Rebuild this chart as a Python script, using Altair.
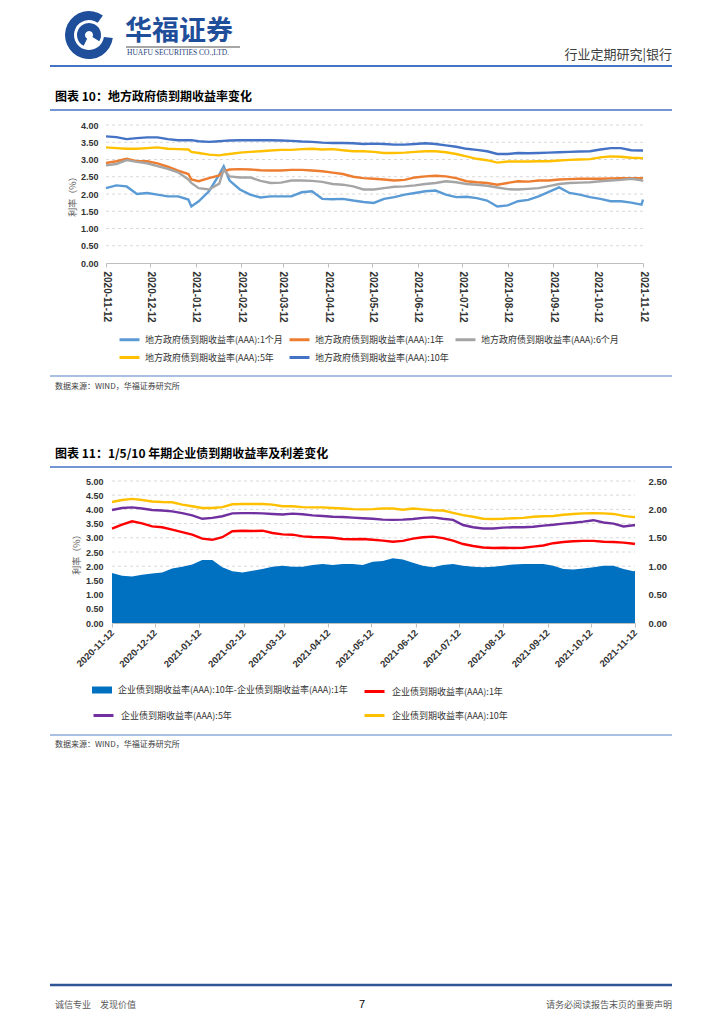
import altair as alt
import pandas as pd

# ---------------- chart 10 data: 地方政府债到期收益率 ----------------
DATES10 = ["2020-11-12", "2020-11-19", "2020-11-26", "2020-12-03", "2020-12-10", "2020-12-17", "2020-12-24", "2020-12-31",
           "2021-01-07", "2021-01-09", "2021-01-14", "2021-01-21", "2021-01-28", "2021-01-31",
           "2021-02-04", "2021-02-11", "2021-02-18", "2021-02-25",
           "2021-03-04", "2021-03-11", "2021-03-18", "2021-03-25",
           "2021-04-01", "2021-04-08", "2021-04-15", "2021-04-22", "2021-04-29",
           "2021-05-06", "2021-05-13", "2021-05-20", "2021-05-27",
           "2021-06-03", "2021-06-10", "2021-06-17", "2021-06-24",
           "2021-07-01", "2021-07-08", "2021-07-15", "2021-07-22", "2021-07-29",
           "2021-08-05", "2021-08-12", "2021-08-19", "2021-08-26",
           "2021-09-02", "2021-09-09", "2021-09-16", "2021-09-23", "2021-09-30",
           "2021-10-07", "2021-10-14", "2021-10-21", "2021-10-28",
           "2021-11-04", "2021-11-11", "2021-11-12"]

LG_1M = [2.17, 2.25, 2.22, 2.00, 2.03, 1.98, 1.93, 1.93, 1.84, 1.64, 1.79, 2.08, 2.56, 2.80,
         2.39, 2.13, 1.98, 1.90, 1.93, 1.93, 1.93, 2.05, 2.08, 1.86, 1.85, 1.86, 1.81,
         1.77, 1.74, 1.86, 1.91, 1.98, 2.03, 2.08, 2.10, 1.98, 1.91, 1.92, 1.88, 1.81,
         1.64, 1.67, 1.79, 1.83, 1.93, 2.06, 2.19, 2.03, 1.98, 1.91, 1.86, 1.79, 1.79,
         1.75, 1.69, 1.84]
LG_1Y = [2.90, 2.95, 3.02, 2.95, 2.95, 2.89, 2.79, 2.68, 2.58, 2.42, 2.37, 2.46, 2.54, 2.66,
         2.71, 2.72, 2.71, 2.69, 2.68, 2.68, 2.70, 2.70, 2.68, 2.66, 2.62, 2.58, 2.50,
         2.46, 2.44, 2.42, 2.39, 2.41, 2.48, 2.51, 2.53, 2.51, 2.46, 2.37, 2.34, 2.32,
         2.27, 2.32, 2.37, 2.36, 2.39, 2.39, 2.42, 2.43, 2.44, 2.44, 2.44, 2.45, 2.46,
         2.46, 2.46, 2.46]
LG_6M = [2.83, 2.87, 2.98, 2.93, 2.89, 2.81, 2.73, 2.63, 2.42, 2.32, 2.17, 2.13, 2.30, 2.71,
         2.51, 2.48, 2.48, 2.38, 2.32, 2.33, 2.39, 2.39, 2.38, 2.35, 2.29, 2.27, 2.22,
         2.13, 2.13, 2.17, 2.21, 2.22, 2.25, 2.29, 2.32, 2.37, 2.34, 2.29, 2.27, 2.24,
         2.19, 2.14, 2.13, 2.15, 2.17, 2.23, 2.29, 2.32, 2.33, 2.34, 2.37, 2.39, 2.41,
         2.44, 2.40, 2.37]
LG_5Y = [3.35, 3.33, 3.31, 3.31, 3.33, 3.35, 3.31, 3.30, 3.29, 3.22, 3.19, 3.14, 3.12, 3.14,
         3.16, 3.20, 3.22, 3.24, 3.26, 3.28, 3.28, 3.30, 3.31, 3.29, 3.30, 3.27, 3.24,
         3.24, 3.22, 3.19, 3.19, 3.20, 3.22, 3.24, 3.24, 3.21, 3.16, 3.09, 3.02, 2.98,
         2.91, 2.94, 2.94, 2.94, 2.95, 2.95, 2.97, 2.99, 3.00, 3.01, 3.06, 3.09, 3.08,
         3.05, 3.04, 3.04]
LG_10Y = [3.67, 3.65, 3.59, 3.62, 3.64, 3.64, 3.59, 3.56, 3.56, 3.56, 3.53, 3.51, 3.53, 3.54,
          3.55, 3.56, 3.56, 3.56, 3.56, 3.55, 3.54, 3.52, 3.51, 3.49, 3.48, 3.48, 3.47,
          3.45, 3.46, 3.45, 3.43, 3.43, 3.45, 3.47, 3.45, 3.41, 3.37, 3.31, 3.28, 3.24,
          3.16, 3.16, 3.19, 3.18, 3.19, 3.20, 3.21, 3.22, 3.23, 3.24, 3.29, 3.33, 3.33,
          3.27, 3.26, 3.26]
NAMES10 = ["地方政府债到期收益率(AAA):1个月", "地方政府债到期收益率(AAA):1年", "地方政府债到期收益率(AAA):6个月",
           "地方政府债到期收益率(AAA):5年", "地方政府债到期收益率(AAA):10年"]
COLORS10 = ["#5B9BD5", "#ED7D31", "#A5A5A5", "#FFC000", "#4472C4"]
YTICKS10 = [0, 0.5, 1.0, 1.5, 2.0, 2.5, 3.0, 3.5, 4.0]

# ---------------- chart 11 data: 企业债到期收益率 ----------------
DATES11 = ["2020-11-12", "2020-11-19", "2020-11-26", "2020-12-03", "2020-12-10", "2020-12-17", "2020-12-24", "2020-12-31",
           "2021-01-07", "2021-01-14", "2021-01-21", "2021-01-28",
           "2021-02-04", "2021-02-11", "2021-02-18", "2021-02-25",
           "2021-03-04", "2021-03-11", "2021-03-18", "2021-03-25",
           "2021-04-01", "2021-04-08", "2021-04-15", "2021-04-22", "2021-04-29",
           "2021-05-06", "2021-05-13", "2021-05-20", "2021-05-27",
           "2021-06-03", "2021-06-10", "2021-06-17", "2021-06-24",
           "2021-07-01", "2021-07-08", "2021-07-15", "2021-07-22", "2021-07-29",
           "2021-08-05", "2021-08-12", "2021-08-19", "2021-08-26",
           "2021-09-02", "2021-09-09", "2021-09-16", "2021-09-23", "2021-09-30",
           "2021-10-07", "2021-10-14", "2021-10-21", "2021-10-28",
           "2021-11-04", "2021-11-11", "2021-11-12"]
CB_1Y = [3.32, 3.46, 3.58, 3.51, 3.40, 3.37, 3.29, 3.20, 3.11, 2.97, 2.93, 3.02,
         3.23, 3.25, 3.24, 3.25, 3.17, 3.12, 3.11, 3.05, 3.03, 3.02, 3.00, 2.96, 2.95,
         2.96, 2.93, 2.90, 2.86, 2.89, 2.97, 3.02, 3.04, 2.99, 2.90, 2.78, 2.71, 2.66,
         2.64, 2.65, 2.64, 2.65, 2.69, 2.73, 2.81, 2.85, 2.88, 2.89, 2.89, 2.86, 2.85,
         2.83, 2.79, 2.78]
CB_5Y = [3.98, 4.05, 4.07, 4.03, 3.98, 3.96, 3.93, 3.87, 3.79, 3.67, 3.70, 3.76,
         3.86, 3.87, 3.87, 3.86, 3.84, 3.82, 3.85, 3.83, 3.79, 3.77, 3.74, 3.73, 3.71,
         3.69, 3.67, 3.64, 3.63, 3.64, 3.66, 3.70, 3.72, 3.67, 3.63, 3.45, 3.37, 3.33,
         3.33, 3.36, 3.37, 3.37, 3.39, 3.43, 3.46, 3.50, 3.53, 3.57, 3.62, 3.54, 3.50,
         3.40, 3.44, 3.44]
CB_10Y = [4.26, 4.33, 4.37, 4.33, 4.28, 4.26, 4.25, 4.17, 4.11, 4.05, 4.05, 4.08,
          4.18, 4.19, 4.19, 4.19, 4.17, 4.11, 4.11, 4.08, 4.07, 4.07, 4.05, 4.03, 4.01,
          4.00, 4.01, 4.03, 4.03, 3.99, 4.03, 4.00, 3.97, 3.96, 3.88, 3.80, 3.74, 3.67,
          3.66, 3.67, 3.69, 3.70, 3.74, 3.76, 3.77, 3.81, 3.84, 3.86, 3.87, 3.86, 3.84,
          3.77, 3.73, 3.73]
CB_SPREAD = [0.88, 0.83, 0.82, 0.85, 0.87, 0.89, 0.96, 0.99, 1.03, 1.11, 1.11, 0.98,
             0.91, 0.89, 0.92, 0.95, 0.99, 1.01, 0.99, 0.99, 1.02, 1.04, 1.02, 1.04, 1.04,
             1.02, 1.08, 1.09, 1.14, 1.12, 1.06, 1.01, 0.98, 1.02, 1.04, 1.01, 0.99, 0.98,
             0.99, 1.01, 1.03, 1.04, 1.04, 1.04, 1.01, 0.95, 0.94, 0.96, 0.98, 1.01, 1.01,
             0.95, 0.91, 0.92]
NAME_SPREAD = "企业债到期收益率(AAA):10年-企业债到期收益率(AAA):1年"
NAME_1Y = "企业债到期收益率(AAA):1年"
NAME_5Y = "企业债到期收益率(AAA):5年"
NAME_10Y = "企业债到期收益率(AAA):10年"
YTICKS11L = [0, 0.5, 1.0, 1.5, 2.0, 2.5, 3.0, 3.5, 4.0, 4.5, 5.0]
YTICKS11R = [0, 0.5, 1.0, 1.5, 2.0, 2.5]

# monthly tick labels shared by both charts
TICK_MONTHS = [(2020, 11), (2020, 12), (2021, 1), (2021, 2), (2021, 3), (2021, 4), (2021, 5),
               (2021, 6), (2021, 7), (2021, 8), (2021, 9), (2021, 10), (2021, 11)]

# ---------------- layout constants (chart pixel space) ----------------
W, H = 708, 1008
X10L, X10R, Y10B, Y10T = 98, 635, 255, 117
X11L, X11R, Y11B, Y11T = 104, 627, 615, 473
CJK = "Noto Sans CJK SC"
NUM = "Liberation Sans"
ONE = pd.DataFrame({"k": [0]})


def dt(s):
    y, m, d = (int(p) for p in s.split("-"))
    return alt.DateTime(year=y, month=m, date=d, utc=True)


TICKS = [alt.DateTime(year=y, month=m, date=12, utc=True) for y, m in TICK_MONTHS]


def text(s, x, y, size, color="#333333", weight="normal", align="left", font=CJK):
    return alt.Chart(ONE).mark_text(text=s, fontSize=size, color=color, fontWeight=weight,
                                    align=align, baseline="middle", font=font).encode(
        x=alt.value(x), y=alt.value(y))


def hrule(x1, x2, y, color, width):
    return alt.Chart(ONE).mark_rule(color=color, strokeWidth=width).encode(
        x=alt.value(x1), x2=alt.value(x2), y=alt.value(y))


def xscale(dates, lo, hi):
    return alt.Scale(type="utc", domain=[dt(dates[0]), dt(dates[-1])], range=[lo, hi])


def xaxis(y_bottom, angle, align, size, pad):
    return alt.Axis(values=TICKS, format="%Y-%m-%d", orient="bottom", offset=y_bottom - H,
                    labelAngle=angle, labelAlign=align, labelBaseline="middle", labelPadding=pad,
                    labelFont=NUM, labelFontSize=size, labelFontWeight="bold", labelColor="#333333",
                    labelOverlap=False, labelFlush=False, labelBound=False,
                    domain=True, domainColor="#BFBFBF", ticks=True, tickColor="#BFBFBF", tickSize=4,
                    grid=False, title=None)


# ---------------- chart 10 ----------------
df10 = pd.DataFrame([{"date": d, "series": n, "value": v}
                     for n, vals in zip(NAMES10, [LG_1M, LG_1Y, LG_6M, LG_5Y, LG_10Y])
                     for d, v in zip(DATES10, vals)])
ys10 = alt.Scale(domain=[0, 4], range=[Y10B, Y10T], nice=False, zero=False)
grid10 = alt.Chart(pd.DataFrame({"v": YTICKS10[1:], "d0": DATES10[0], "d1": DATES10[-1]})).mark_rule(
    color="#D9D9D9", strokeDash=[3, 3], strokeWidth=1).encode(
    x=alt.X("d0:T", scale=xscale(DATES10, X10L, X10R), axis=None), x2="d1:T",
    y=alt.Y("v:Q", scale=ys10, axis=None))
lines10 = alt.Chart(df10).mark_line(strokeWidth=2.4).encode(
    x=alt.X("date:T", scale=xscale(DATES10, X10L, X10R), axis=xaxis(Y10B, 90, "left", 10, 4)),
    y=alt.Y("value:Q", scale=ys10,
            axis=alt.Axis(values=YTICKS10, format=".2f", orient="left", offset=-X10L,
                          domain=False, ticks=False, grid=False, labelPadding=8,
                          labelFont=NUM, labelFontSize=9, labelFontWeight="bold", labelColor="#333333",
                          title="利率（%）", titleFont=CJK, titleFontSize=9, titleFontWeight="normal",
                          titleColor="#595959", titlePadding=3)),
    color=alt.Color("series:N", scale=alt.Scale(domain=NAMES10, range=COLORS10),
                    legend=alt.Legend(orient="none", legendX=110, legendY=320, columns=3, title=None,
                                      direction="horizontal",
                                      symbolType="stroke", symbolSize=400, symbolStrokeWidth=3,
                                      labelFont=CJK, labelFontSize=9, labelColor="#333333",
                                      labelLimit=400, columnPadding=0, rowPadding=0, gridAlign="each",
                                      padding=0, labelOffset=4)),
    order=alt.Order("series_order:Q")
).transform_calculate(series_order=f"indexof({NAMES10!r}, datum.series)")
chart10 = alt.layer(grid10, lines10).resolve_scale(x="independent", y="independent")

# ---------------- chart 11 ----------------
ysl = alt.Scale(domain=[0, 5], range=[Y11B, Y11T], nice=False, zero=False)
ysr = alt.Scale(domain=[0, 2.5], range=[Y11B, Y11T], nice=False, zero=False)
grid11 = alt.Chart(pd.DataFrame({"v": YTICKS11L[1:], "d0": DATES11[0], "d1": DATES11[-1]})).mark_rule(
    color="#D9D9D9", strokeDash=[3, 3], strokeWidth=1).encode(
    x=alt.X("d0:T", scale=xscale(DATES11, X11L, X11R), axis=None), x2="d1:T",
    y=alt.Y("v:Q", scale=ysl, axis=None))

df_sp = pd.DataFrame({"date": DATES11, "value": CB_SPREAD, "series": NAME_SPREAD})
area11 = alt.Chart(df_sp).mark_area(opacity=1).encode(
    x=alt.X("date:T", scale=xscale(DATES11, X11L, X11R), axis=xaxis(Y11B, 315, "right", 9.5, 4)),
    y=alt.Y("value:Q", scale=ysr,
            axis=alt.Axis(values=YTICKS11R, format=".2f", orient="right", offset=X11R - W,
                          domain=False, ticks=False, grid=False, labelPadding=13,
                          labelFont=NUM, labelFontSize=9.5, labelFontWeight="bold", labelColor="#333333",
                          title=None)),
    color=alt.Color("series:N", scale=alt.Scale(domain=[NAME_SPREAD], range=["#0070C0"]),
                    legend=alt.Legend(orient="none", legendX=84, legendY=672, title=None,
                                      symbolType="M-1,-0.35L1,-0.35L1,0.35L-1,0.35Z", symbolSize=400,
                                      symbolStrokeWidth=0,
                                      labelFont=CJK, labelFontSize=9, labelColor="#333333",
                                      labelLimit=400, padding=0, labelOffset=6)))


def corp_line(name, vals, color, lx, ly, show_axis):
    d = pd.DataFrame({"date": DATES11, "value": vals, "series": name})
    yaxis = None
    if show_axis:
        yaxis = alt.Axis(values=YTICKS11L, format=".2f", orient="left", offset=-X11L,
                         domain=False, ticks=False, grid=False, labelPadding=9,
                         labelFont=NUM, labelFontSize=9, labelFontWeight="bold", labelColor="#333333",
                         title="利率（%）", titleFont=CJK, titleFontSize=9, titleFontWeight="normal",
                         titleColor="#595959", titlePadding=4)
    return alt.Chart(d).mark_line(strokeWidth=2.4).encode(
        x=alt.X("date:T", scale=xscale(DATES11, X11L, X11R), axis=None),
        y=alt.Y("value:Q", scale=ysl, axis=yaxis),
        color=alt.Color("series:N", scale=alt.Scale(domain=[name], range=[color]),
                        legend=alt.Legend(orient="none", legendX=lx, legendY=ly, title=None,
                                          symbolType="stroke", symbolSize=400, symbolStrokeWidth=3,
                                          labelFont=CJK, labelFontSize=9, labelColor="#333333",
                                          labelLimit=400, padding=0, labelOffset=6)))


l1 = corp_line(NAME_1Y, CB_1Y, "#FF0000", 355, 672, True)
l5 = corp_line(NAME_5Y, CB_5Y, "#7030A0", 84, 696, False)
l10 = corp_line(NAME_10Y, CB_10Y, "#FFC000", 355, 696, False)
chart11 = alt.layer(grid11, area11, l1, l5, l10).resolve_scale(
    x="independent", y="independent", color="independent")

# ---------------- page decorations ----------------
LOGO_BLUE = "#1F4E9A"
logo_outer = alt.Chart(ONE).mark_arc(radius=24, radius2=15, theta=1.7, theta2=6.9, color=LOGO_BLUE).encode(
    x=alt.value(81), y=alt.value(27))
logo_inner = alt.Chart(ONE).mark_arc(radius=12, radius2=4, theta=3.6, theta2=8.4, color=LOGO_BLUE).encode(
    x=alt.value(81), y=alt.value(27))

decor = [
    logo_outer, logo_inner,
    text("华福证券", 117, 24, 27, LOGO_BLUE, "bold"),
    hrule(118, 232, 39, "#A6A6A6", 2),
    text("HUAFU SECURITIES CO.,LTD.", 119, 45, 7.5, "#1F3F7A", font="Liberation Serif"),
    text("行业定期研究|银行", 664, 47, 13, "#404040", align="right"),
    hrule(42, 664, 58, "#4472C4", 2),
    text("图表 10：地方政府债到期收益率变化", 47, 89, 12, "#000000", "bold"),
    hrule(42, 664, 102, "#4472C4", 1.5),
    hrule(42, 664, 368, "#8EAADB", 1.5),
    text("数据来源：WIND，华福证券研究所", 47, 379, 8, "#404040"),
    text("图表 11：1/5/10 年期企业债到期收益率及利差变化", 47, 446, 12, "#000000", "bold"),
    hrule(42, 664, 459, "#4472C4", 1.5),
    hrule(42, 664, 727, "#8EAADB", 1.5),
    text("数据来源：WIND，华福证券研究所", 47, 737, 8, "#404040"),
    hrule(42, 664, 977, "#2F5597", 2.5),
    text("诚信专业\u3000发现价值", 47, 997, 9, "#595959"),
    text("7", 354, 997, 11, "#000000", align="center", font=NUM),
    text("请务必阅读报告末页的重要声明", 664, 997, 9, "#595959", align="right"),
]

chart = alt.layer(chart10, chart11, *decor).resolve_scale(
    x="independent", y="independent", color="independent"
).properties(
    width=W, height=H, padding=0, autosize=alt.AutoSizeParams(type="none"),
    background="white"
).configure_view(stroke=None)

chart.save("out.html", embed_options={"renderer": "svg", "actions": False})
